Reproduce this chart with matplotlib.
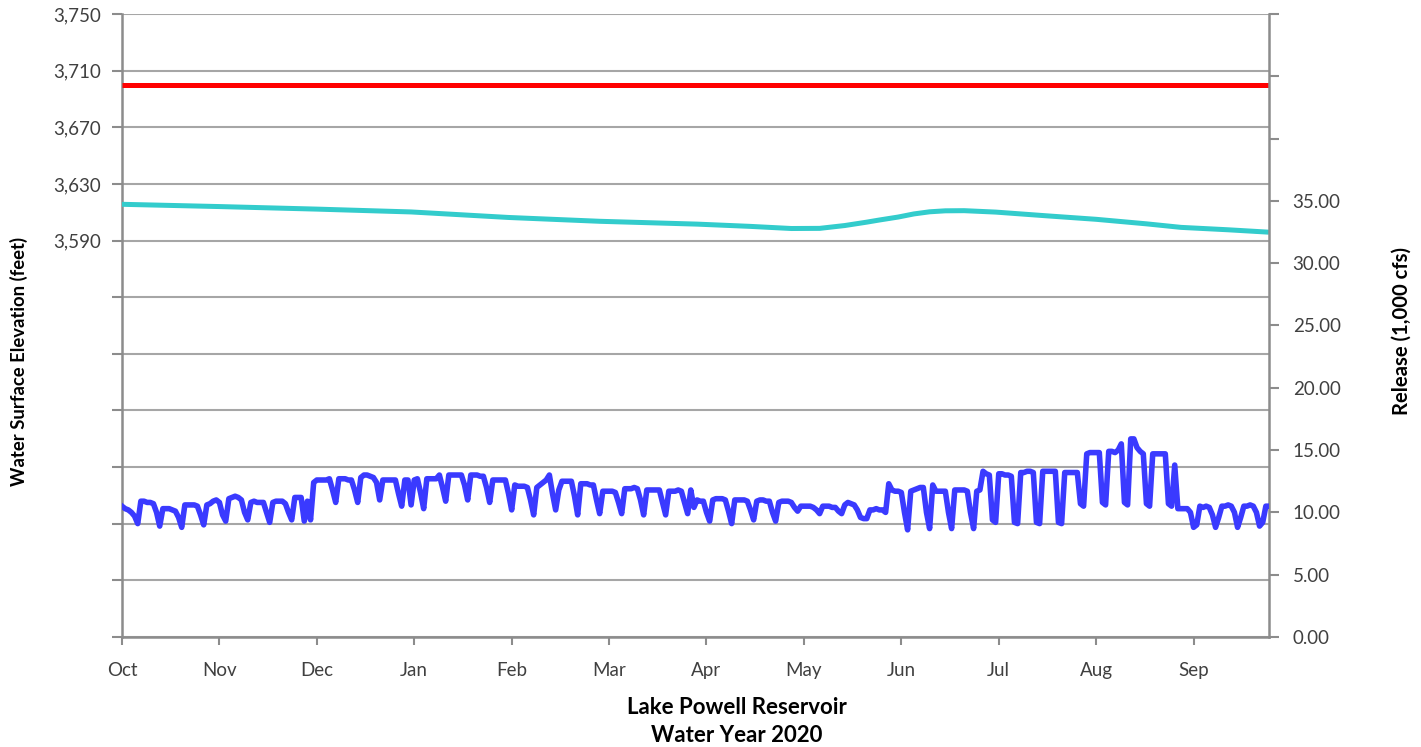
import matplotlib
matplotlib.use("Agg")
import matplotlib.pyplot as plt
import numpy as np

plt.rcParams['font.family'] = ['Lato', 'DejaVu Sans']

# Daily release, 1,000 cfs, Oct 1 2019 - Sep 30 2020 (rows are Tue..Mon weeks)
release = [
    10.5, 10.3, 10.2, 10.0, 9.7, 9.1, 10.9,
    10.9, 10.8, 10.8, 10.7, 10.0, 8.9, 10.3,
    10.3, 10.3, 10.2, 10.1, 9.6, 8.8, 10.6,
    10.6, 10.6, 10.6, 10.5, 9.8, 9.0, 10.6,
    10.7, 10.9, 11.0, 10.8, 9.8, 9.3, 11.1,
    11.2, 11.3, 11.2, 11.0, 10.0, 9.4, 10.8,
    10.9, 10.8, 10.8, 10.8, 10.0, 9.2, 10.8,
    10.9, 10.9, 10.9, 10.7, 10.0, 9.4, 11.2,
    11.2, 11.2, 9.3, 10.9, 9.4, 12.4, 12.6,
    12.6, 12.6, 12.6, 12.7, 11.8, 10.8, 12.7,
    12.7, 12.7, 12.6, 12.6, 11.8, 10.8, 12.8,
    13.0, 13.0, 12.9, 12.8, 12.4, 11.0, 12.6,
    12.6, 12.6, 12.6, 12.6, 11.5, 10.5, 12.6,
    12.6, 10.6, 12.6, 12.7, 11.6, 10.3, 12.7,
    12.7, 12.7, 12.7, 13.0, 12.0, 10.9, 13.0,
    13.0, 13.0, 13.0, 13.0, 12.2, 11.0, 13.0,
    13.0, 13.0, 12.9, 12.9, 12.0, 10.8, 12.6,
    12.6, 12.6, 12.6, 12.6, 11.5, 10.2, 12.2,
    12.1, 12.1, 12.1, 12.0, 11.0, 9.8, 12.0,
    12.2, 12.4, 12.6, 13.0, 11.5, 10.2, 11.8,
    12.5, 12.5, 12.5, 12.5, 11.3, 9.8, 12.3,
    12.3, 12.3, 12.2, 12.2, 11.0, 9.9, 11.7,
    11.7, 11.7, 11.7, 11.6, 10.8, 9.9, 11.9,
    11.9, 11.9, 12.0, 11.9, 11.0, 9.8, 11.8,
    11.8, 11.8, 11.8, 11.8, 10.8, 9.8, 11.7,
    11.7, 11.7, 11.8, 11.7, 10.8, 9.9, 11.8,
    10.4, 11.0, 10.9, 10.9, 10.0, 9.3, 11.0,
    11.1, 11.1, 11.1, 11.0, 10.1, 9.1, 11.0,
    11.0, 11.0, 11.0, 10.9, 10.2, 9.4, 10.9,
    11.0, 11.0, 10.9, 10.9, 10.0, 9.3, 10.8,
    10.9, 10.9, 10.9, 10.8, 10.4, 10.1, 10.5,
    10.5, 10.5, 10.5, 10.4, 10.2, 9.9, 10.5,
    10.5, 10.5, 10.4, 10.4, 10.1, 9.9, 10.6,
    10.8, 10.7, 10.6, 10.2, 9.6, 9.5, 9.5,
    10.2, 10.2, 10.3, 10.2, 10.2, 10.0, 12.3,
    11.8, 11.7, 11.7, 11.6, 10.0, 8.6, 11.7,
    11.8, 11.9, 12.0, 12.0, 10.0, 8.7, 12.2,
    11.7, 11.7, 11.7, 11.7, 10.0, 8.7, 11.8,
    11.8, 11.8, 11.8, 11.7, 10.0, 8.7, 11.7,
    11.8, 13.3, 13.1, 13.0, 9.4, 9.2, 13.1,
    13.1, 13.0, 13.0, 12.9, 9.2, 9.1, 13.2,
    13.2, 13.3, 13.3, 13.2, 9.2, 9.1, 13.3,
    13.3, 13.3, 13.3, 13.3, 9.2, 9.1, 13.2,
    13.2, 13.2, 13.2, 13.2, 10.7, 10.5, 14.7,
    14.8, 14.8, 14.8, 14.8, 10.8, 10.6, 14.9,
    14.9, 14.8, 15.0, 15.5, 10.8, 10.6, 15.9,
    15.9, 15.2, 14.9, 14.7, 10.7, 10.5, 14.7,
    14.7, 14.7, 14.7, 14.7, 10.7, 10.5, 13.8,
    10.3, 10.3, 10.3, 10.3, 10.0, 8.8, 9.0,
    10.5, 10.4, 10.5, 10.4, 9.8, 8.8, 9.6,
    10.5, 10.5, 10.6, 10.5, 10.0, 8.8, 9.6,
    10.5, 10.5, 10.6, 10.5, 10.0, 8.9, 9.2,
    10.5, 10.5,
]

# Reservoir water surface elevation (feet), day of water year -> elevation
elev_day = [0, 31, 62, 92, 123, 152, 183, 200, 213, 222, 230, 237, 241,
            247, 252, 257, 262, 268, 278, 294, 310, 326, 337, 352, 365]
elevation = [3615.6, 3614.0, 3612.2, 3610.2, 3606.3, 3603.6, 3601.6, 3600.0,
             3598.5, 3598.6, 3600.6, 3603.0, 3604.5, 3606.6, 3608.8, 3610.3,
             3611.0, 3611.1, 3610.1, 3607.5, 3605.0, 3601.8, 3599.3, 3597.6,
             3595.9]

target_elevation = 3700

month_labels = ['Oct', 'Nov', 'Dec', 'Jan', 'Feb', 'Mar',
                'Apr', 'May', 'Jun', 'Jul', 'Aug', 'Sep']
elev_ticks = np.arange(3310, 3751, 40)
elev_labeled_min = 3590
release_ticks = np.arange(0, 51, 5)
release_labeled_max = 35

text_color = '#404040'
axis_color = '#8c8c8c'
grid_color = '#a6a6a6'

fig = plt.figure(figsize=(14.21, 7.47), dpi=100)
W, H = 1421, 747
ax1 = fig.add_axes([122 / W, 1 - 637 / H, (1269 - 122) / W, (637 - 14) / H])
ax2 = ax1.twinx()

days = np.arange(len(release))
ax1.set_xlim(0, len(release) - 1)
ax1.set_ylim(elev_ticks[0], elev_ticks[-1])
ax2.set_ylim(release_ticks[0], release_ticks[-1])

# elevation lines on the left scale, release on the right scale
ax1.axhline(target_elevation, color='#ff0000', lw=3.6, solid_capstyle='butt', zorder=3)
ax1.plot(elev_day, elevation, color='#33cccc', lw=3.6, solid_capstyle='butt', zorder=3)
ax2.plot(days, release, color='#3a3aff', lw=4.0, solid_joinstyle='round', zorder=3)

# grid and spines
ax1.set_yticks(elev_ticks)
ax1.set_yticklabels([f'{v:,.0f}' if v >= elev_labeled_min else '' for v in elev_ticks])
ax1.yaxis.grid(True, color=grid_color, lw=1.5)
ax1.set_axisbelow(True)
ax2.set_yticks(release_ticks)
ax2.set_yticklabels([f'{v:.2f}' if v <= release_labeled_max else '' for v in release_ticks])

ax1.set_xticks(np.arange(0, len(release), 31)[:len(month_labels)])
ax1.set_xticklabels(month_labels)

for ax in (ax1, ax2):
    ax.spines['top'].set_visible(False)
    for side in ('left', 'right', 'bottom'):
        ax.spines[side].set_color(axis_color)
        ax.spines[side].set_linewidth(1.8)
ax1.spines['right'].set_visible(False)
ax2.spines['left'].set_visible(False)
ax2.spines['bottom'].set_visible(False)

ax1.tick_params(axis='y', direction='out', length=7, width=1.5, color=axis_color,
                labelsize=13.5, labelcolor=text_color, pad=8)
ax1.tick_params(axis='x', direction='out', length=6, width=1.5, color=axis_color,
                labelsize=13.5, labelcolor=text_color, pad=12)
ax2.tick_params(axis='y', direction='out', length=7, width=1.5, color=axis_color,
                labelsize=13.5, labelcolor=text_color, pad=10)

ax1.set_ylabel('Water Surface Elevation (feet)', fontsize=13.3, fontweight='bold',
               color='#000000')
ax1.yaxis.set_label_coords(-0.082, 0.442)
ax2.set_ylabel('Release (1,000 cfs)', fontsize=14.6, fontweight='bold',
               color='#000000', rotation=90)
ax2.yaxis.set_label_coords(1.107, 0.491)

ax1.set_xlabel('Lake Powell Reservoir\nWater Year 2020', fontsize=16,
               fontweight='bold', color='#000000', linespacing=1.4)
ax1.xaxis.set_label_coords(0.536, -0.135)
ax1.xaxis.label.set_va('center')

fig.savefig('out.png', dpi=100)
